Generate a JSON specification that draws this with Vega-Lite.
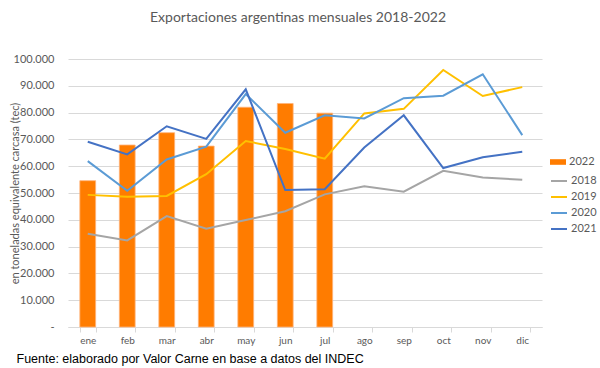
{
  "$schema": "https://vega.github.io/schema/vega-lite/v6.json",
  "width": 474,
  "height": 268,
  "autosize": "none",
  "padding": {"left": 68, "top": 59, "right": 58, "bottom": 41},
  "background": "white",
  "title": {
    "text": "Exportaciones argentinas mensuales 2018-2022",
    "font": "Lato",
    "fontSize": 14,
    "fontWeight": "normal",
    "color": "#595959",
    "anchor": "middle",
    "offset": 28,
    "dx": -7
  },
  "config": {
    "view": {"stroke": null},
    "font": "Lato"
  },
  "data": {
    "values": [
      {"mes": "ene", "anio": "2018", "valor": 34800},
      {"mes": "feb", "anio": "2018", "valor": 32300},
      {"mes": "mar", "anio": "2018", "valor": 41400},
      {"mes": "abr", "anio": "2018", "valor": 36700},
      {"mes": "may", "anio": "2018", "valor": 39900},
      {"mes": "jun", "anio": "2018", "valor": 43200},
      {"mes": "jul", "anio": "2018", "valor": 49500},
      {"mes": "ago", "anio": "2018", "valor": 52500},
      {"mes": "sep", "anio": "2018", "valor": 50500},
      {"mes": "oct", "anio": "2018", "valor": 58300},
      {"mes": "nov", "anio": "2018", "valor": 55800},
      {"mes": "dic", "anio": "2018", "valor": 54900},
      {"mes": "ene", "anio": "2019", "valor": 49300},
      {"mes": "feb", "anio": "2019", "valor": 48600},
      {"mes": "mar", "anio": "2019", "valor": 48900},
      {"mes": "abr", "anio": "2019", "valor": 57000},
      {"mes": "may", "anio": "2019", "valor": 69400},
      {"mes": "jun", "anio": "2019", "valor": 66400},
      {"mes": "jul", "anio": "2019", "valor": 62800},
      {"mes": "ago", "anio": "2019", "valor": 79700},
      {"mes": "sep", "anio": "2019", "valor": 81400},
      {"mes": "oct", "anio": "2019", "valor": 95900},
      {"mes": "nov", "anio": "2019", "valor": 86200},
      {"mes": "dic", "anio": "2019", "valor": 89500},
      {"mes": "ene", "anio": "2020", "valor": 61900},
      {"mes": "feb", "anio": "2020", "valor": 50800},
      {"mes": "mar", "anio": "2020", "valor": 62500},
      {"mes": "abr", "anio": "2020", "valor": 67300},
      {"mes": "may", "anio": "2020", "valor": 86900},
      {"mes": "jun", "anio": "2020", "valor": 72500},
      {"mes": "jul", "anio": "2020", "valor": 79000},
      {"mes": "ago", "anio": "2020", "valor": 77800},
      {"mes": "sep", "anio": "2020", "valor": 85400},
      {"mes": "oct", "anio": "2020", "valor": 86300},
      {"mes": "nov", "anio": "2020", "valor": 94300},
      {"mes": "dic", "anio": "2020", "valor": 71600},
      {"mes": "ene", "anio": "2021", "valor": 69100},
      {"mes": "feb", "anio": "2021", "valor": 64400},
      {"mes": "mar", "anio": "2021", "valor": 74900},
      {"mes": "abr", "anio": "2021", "valor": 70200},
      {"mes": "may", "anio": "2021", "valor": 88700},
      {"mes": "jun", "anio": "2021", "valor": 51100},
      {"mes": "jul", "anio": "2021", "valor": 51400},
      {"mes": "ago", "anio": "2021", "valor": 67000},
      {"mes": "sep", "anio": "2021", "valor": 79000},
      {"mes": "oct", "anio": "2021", "valor": 59300},
      {"mes": "nov", "anio": "2021", "valor": 63300},
      {"mes": "dic", "anio": "2021", "valor": 65400},
      {"mes": "ene", "anio": "2022", "valor": 54600},
      {"mes": "feb", "anio": "2022", "valor": 67900},
      {"mes": "mar", "anio": "2022", "valor": 72500},
      {"mes": "abr", "anio": "2022", "valor": 67500},
      {"mes": "may", "anio": "2022", "valor": 82000},
      {"mes": "jun", "anio": "2022", "valor": 83400},
      {"mes": "jul", "anio": "2022", "valor": 79800}
    ]
  },
  "encoding": {
    "x": {
      "field": "mes",
      "type": "nominal",
      "sort": ["ene", "feb", "mar", "abr", "may", "jun", "jul", "ago", "sep", "oct", "nov", "dic"],
      "scale": {
        "domain": ["ene", "feb", "mar", "abr", "may", "jun", "jul", "ago", "sep", "oct", "nov", "dic"],
        "paddingInner": 0.6,
        "paddingOuter": 0.3
      },
      "axis": {
        "labelAngle": 0,
        "labelFont": "Lato",
        "labelFontSize": 10,
        "labelColor": "#595959",
        "domainColor": "#d9d9d9",
        "tickColor": "#d9d9d9",
        "tickSize": 5,
        "tickBand": "extent",
        "labelPadding": 3,
        "title": "Fuente: elaborado por  Valor Carne en base a datos del INDEC",
        "titleFont": "Liberation Sans",
        "titleFontSize": 12.5,
        "titleFontWeight": "normal",
        "titleColor": "#000000",
        "titleAnchor": "start",
        "titleAlign": "left",
        "titleBaseline": "alphabetic",
        "titleX": -52,
        "titleY": 35
      }
    },
    "y": {
      "field": "valor",
      "type": "quantitative",
      "scale": {"domain": [0, 100000], "nice": false},
      "axis": {
        "values": [0, 10000, 20000, 30000, 40000, 50000, 60000, 70000, 80000, 90000, 100000],
        "labelExpr": "datum.value == 0 ? '-' : replace(format(datum.value, ','), ',', '.')",
        "labelFont": "Lato",
        "labelFontSize": 11,
        "labelColor": "#595959",
        "labelPadding": 14,
        "ticks": false,
        "domain": false,
        "gridColor": "#d9d9d9",
        "gridWidth": 1,
        "title": "en toneladas equivalente carcasa (tec)",
        "titleFont": "Lato",
        "titleFontSize": 11,
        "titleFontWeight": "normal",
        "titleColor": "#595959",
        "titleBaseline": "alphabetic",
        "titleX": -50
      }
    }
  },
  "layer": [
    {
      "transform": [{"filter": "datum.anio == '2022'"}],
      "mark": {"type": "bar", "stroke": "#ffb27a", "strokeWidth": 0.8},
      "encoding": {
        "fill": {
          "field": "anio",
          "type": "nominal",
          "scale": {"domain": ["2022"], "range": ["#ff7c00"]},
          "legend": {
            "title": null,
            "orient": "none",
            "legendX": 482,
            "legendY": 95,
            "symbolType": "M-1,-0.35H1V0.35H-1Z",
            "symbolSize": 256,
            "symbolStrokeWidth": 0,
            "labelFont": "Lato",
            "labelFontSize": 11,
            "labelColor": "#595959",
            "labelOffset": 3
          }
        }
      }
    },
    {
      "transform": [{"filter": "datum.anio != '2022'"}],
      "mark": {"type": "line", "strokeWidth": 2},
      "encoding": {
        "detail": {"field": "anio", "type": "nominal"},
        "stroke": {
          "field": "anio",
          "type": "nominal",
          "scale": {
            "domain": ["2018", "2019", "2020", "2021"],
            "range": ["#a5a5a5", "#ffc000", "#5b9bd5", "#4472c4"]
          },
          "legend": {
            "title": null,
            "orient": "none",
            "legendX": 482,
            "legendY": 113,
            "symbolType": "stroke",
            "symbolSize": 256,
            "symbolStrokeWidth": 2,
            "rowPadding": 2,
            "labelFont": "Lato",
            "labelFontSize": 11,
            "labelColor": "#595959",
            "labelOffset": 3
          }
        }
      }
    }
  ],
  "resolve": {"scale": {"fill": "independent", "stroke": "independent"}}
}
